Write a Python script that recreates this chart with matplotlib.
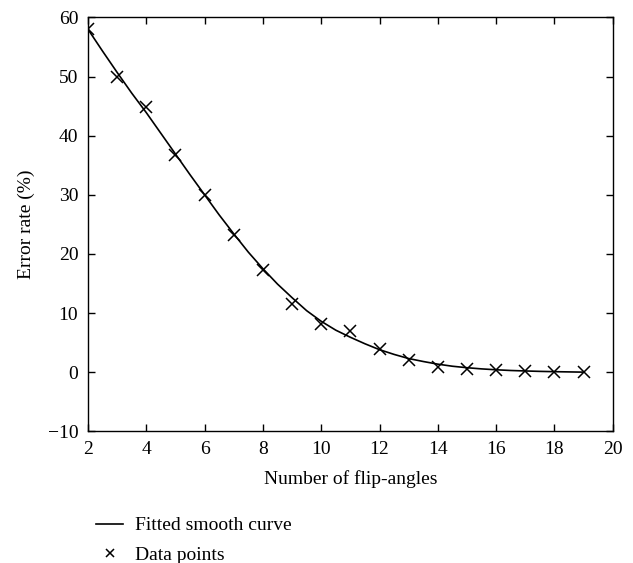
import numpy as np
import matplotlib.pyplot as plt

# data points
x_pts = [2, 3, 4, 5, 6, 7, 8, 9, 10, 11, 12, 13, 14, 15, 16, 17, 18, 19]
y_pts = [58.0, 50.0, 44.8, 36.7, 30.0, 23.2, 17.3, 11.6, 8.2, 7.0, 3.9, 2.0,
         0.95, 0.55, 0.3, 0.17, 0.05, 0.0]

# fitted smooth curve, sampled off the figure
x_fit = [2, 2.5, 3, 3.5, 4, 4.5, 5, 5.5, 6, 6.5, 7, 7.5, 8, 8.5, 9, 9.5, 10,
         10.5, 11, 11.5, 12, 12.5, 13, 13.5, 14, 14.5, 15, 15.5, 16, 16.5,
         17, 17.5, 18, 18.5, 19]
y_fit = [58.0, 54.3, 50.7, 47.2, 43.9, 40.4, 36.9, 33.4, 30.0, 26.6, 23.4,
         20.3, 17.5, 14.9, 12.6, 10.4, 8.6, 7.1, 5.9, 4.8, 3.8, 3.0, 2.3,
         1.8, 1.35, 1.0, 0.75, 0.55, 0.4, 0.28, 0.2, 0.13, 0.08, 0.04, 0.0]

plt.rcParams['font.family'] = ['Liberation Serif', 'DejaVu Serif']
plt.rcParams['font.size'] = 14

fig = plt.figure(figsize=(6.33, 5.63), dpi=100)
ax = fig.add_axes([0.139, 0.234, 0.829, 0.735])

ax.plot(x_fit, y_fit, color='black', lw=1.2, label='Fitted smooth curve')
ax.plot(x_pts, y_pts, 'x', color='black', ms=8.5, mew=1.1, label='Data points')

ax.set_xlim(2, 20)
ax.set_ylim(-10, 60)
ax.set_xticks(np.arange(2, 21, 2))
ax.set_yticks(np.arange(-10, 61, 10))
ax.tick_params(direction='in', top=True, right=True, length=5, width=1, pad=7)
for s in ax.spines.values():
    s.set_linewidth(1)
ax.set_xlabel('Number of flip-angles', labelpad=9)
ax.set_ylabel('Error rate (%)', labelpad=9)

fig.legend(loc='upper left', bbox_to_anchor=(0.152, 0.082), frameon=False,
           handlelength=1.4, handletextpad=0.6, labelspacing=0.6,
           markerscale=0.6, borderpad=0, borderaxespad=0)

fig.savefig('out.png', dpi=100)
